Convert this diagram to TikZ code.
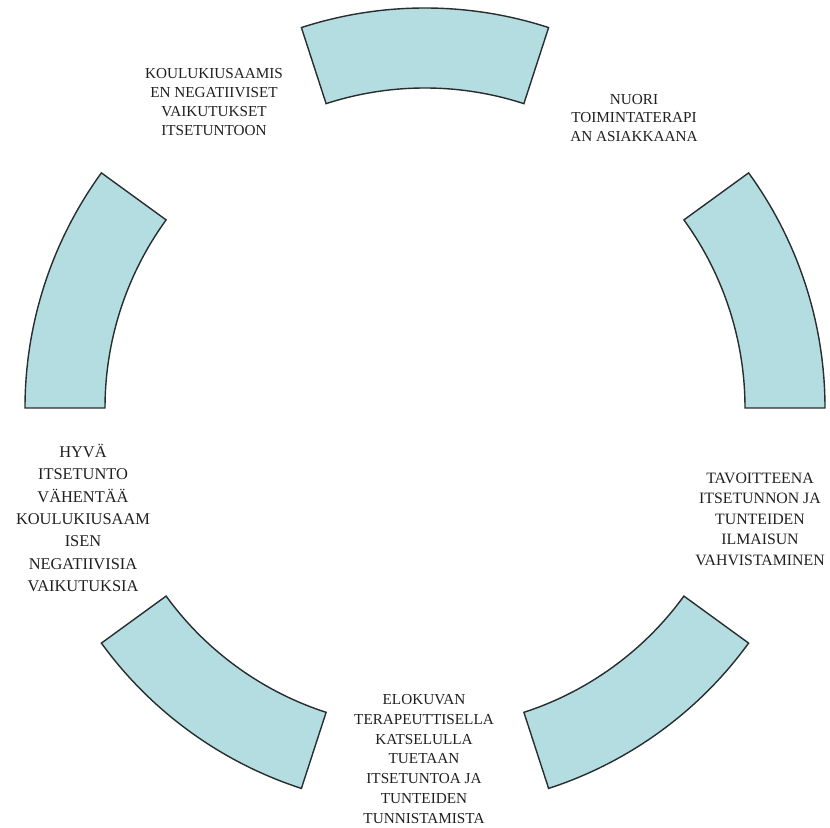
\documentclass[tikz,border=0pt]{standalone}
\usepackage{fontspec}
\setmainfont{Liberation Serif}
\definecolor{renkaanvari}{RGB}{180,221,225}
\definecolor{reunavari}{RGB}{40,46,46}
\tikzset{
    lohko/.style={fill=renkaanvari, draw=reunavari, line width=1.2pt},
    teksti/.style={align=center, text=black!88, inner sep=0pt},
}
\begin{document}
\begin{tikzpicture}[x=0.03cm, y=0.03cm]
            \useasboundingbox (0,0) rectangle (830,827);
            \begin{scope}[shift={(425,419)}]
                \foreach \a in {90, 18, -54, -126, 162}
                    {
                        \draw[lohko] (\a-18:320) arc[start angle=\a-18, end angle=\a+18, radius=320]
                            -- (\a+18:400) arc[start angle=\a+18, end angle=\a-18, radius=400] -- cycle;
                    }
            \end{scope}

            \node[teksti, font=\fontsize{13}{16}\selectfont] (kiusaaminen) at (214,725)
                {KOULUKIUSAAMIS\\EN NEGATIIVISET\\VAIKUTUKSET\\ITSETUNTOON};
            \node[teksti, font=\fontsize{13}{16}\selectfont] (nuori) at (634,709)
                {NUORI\\TOIMINTATERAPI\\AN ASIAKKAANA};
            \node[teksti, font=\fontsize{13.5}{17.5}\selectfont] (tavoite) at (760,308)
                {TAVOITTEENA\\ITSETUNNON JA\\TUNTEIDEN\\ILMAISUN\\VAHVISTAMINEN};
            \node[teksti, font=\fontsize{13}{17}\selectfont] (elokuva) at (424,68)
                {ELOKUVAN\\TERAPEUTTISELLA\\KATSELULLA\\TUETAAN\\ITSETUNTOA JA\\TUNTEIDEN\\TUNNISTAMISTA};
            \node[teksti, font=\fontsize{14}{19}\selectfont] (itsetunto) at (83,309)
                {HYVÄ\\ITSETUNTO\\VÄHENTÄÄ\\KOULUKIUSAAM\\ISEN\\NEGATIIVISIA\\VAIKUTUKSIA};
        \end{tikzpicture}
\end{document}
